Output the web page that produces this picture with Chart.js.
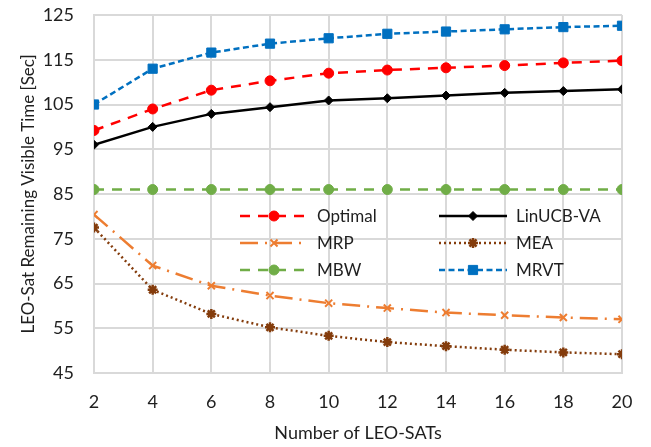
<!DOCTYPE html>
<html>
<head>
<meta charset="utf-8">
<script src="https://cdn.jsdelivr.net/npm/chart.js@4/dist/chart.umd.min.js"></script>
<style>
  html, body { margin: 0; padding: 0; background: #fff; }
  #wrap { width: 651px; height: 447px; }
</style>
</head>
<body>
<div id="wrap"><canvas id="c" width="651" height="447"></canvas></div>
<script>
const satCounts = [2, 4, 6, 8, 10, 12, 14, 16, 18, 20];
const optimal  = [99.2, 104.0, 108.2, 110.3, 112.0, 112.7, 113.2, 113.7, 114.3, 114.8];
const linucbVA = [96.0, 100.0, 102.9, 104.4, 105.9, 106.4, 107.0, 107.6, 108.0, 108.4];
const mrp      = [80.4, 69.0, 64.5, 62.3, 60.6, 59.5, 58.5, 57.9, 57.4, 57.0];
const mea      = [77.5, 63.6, 58.2, 55.2, 53.3, 51.9, 51.0, 50.2, 49.6, 49.2];
const mbw      = [86, 86, 86, 86, 86, 86, 86, 86, 86, 86];
const mrvt     = [105.0, 113.0, 116.6, 118.6, 119.8, 120.8, 121.3, 121.8, 122.3, 122.6];
const seriesNames = ["Optimal", "LinUCB-VA", "MRP", "MEA", "MBW", "MRVT"];
const yTicks = [45, 55, 65, 75, 85, 95, 105, 115, 125];

const FONT = "Lato, 'Open Sans', sans-serif";
const TXT = "#1f1f1f";

function pts(arr) { return arr.map((v, i) => ({ x: satCounts[i], y: v })); }

const datasets = [
  { label: seriesNames[0], data: pts(optimal), borderColor: "#FF0000", backgroundColor: "#FF0000",
    borderWidth: 2.5, borderDash: [10, 8], pointStyle: "circle", pointRadius: 5,
    pointBackgroundColor: "#FF0000", pointBorderColor: "#FF0000", pointBorderWidth: 1 },
  { label: seriesNames[1], data: pts(linucbVA), borderColor: "#000000", backgroundColor: "#000000",
    borderWidth: 2.5, borderDash: [], pointStyle: "rectRot", pointRadius: 4.5,
    pointBackgroundColor: "#000000", pointBorderColor: "#000000", pointBorderWidth: 1 },
  { label: seriesNames[2], data: pts(mrp), borderColor: "#ED7D31", backgroundColor: "#ED7D31",
    borderWidth: 2.5, borderDash: [18, 7, 2, 7], pointStyle: "crossRot", pointRadius: 5,
    pointBackgroundColor: "#ED7D31", pointBorderColor: "#ED7D31", pointBorderWidth: 2 },
  { label: seriesNames[3], data: pts(mea), borderColor: "#843C0C", backgroundColor: "#843C0C",
    borderWidth: 2.5, borderDash: [2, 3], pointStyle: "star", pointRadius: 5,
    pointBackgroundColor: "#843C0C", pointBorderColor: "#843C0C", pointBorderWidth: 2.5 },
  { label: seriesNames[4], data: pts(mbw), borderColor: "#70AD47", backgroundColor: "#70AD47",
    borderWidth: 2.5, borderDash: [10, 8], pointStyle: "circle", pointRadius: 5,
    pointBackgroundColor: "#70AD47", pointBorderColor: "#70AD47", pointBorderWidth: 1 },
  { label: seriesNames[5], data: pts(mrvt), borderColor: "#0070C0", backgroundColor: "#0070C0",
    borderWidth: 2.5, borderDash: [6, 3.5], pointStyle: "rect", pointRadius: 6.5,
    pointBackgroundColor: "#0070C0", pointBorderColor: "#0070C0", pointBorderWidth: 1 }
];

// Legend drawn inside the plot area in a 2-column grid (transparent background)
const gridLegend = {
  id: "gridLegend",
  afterDatasetsDraw(chart) {
    const ctx = chart.ctx;
    const area = chart.chartArea;
    const colX = [area.left + 146, area.left + 345];
    const rowY0 = area.top + 201, rowH = 27;
    const lineLen = 68;
    chart.data.datasets.forEach((ds, i) => {
      const col = i % 2, row = Math.floor(i / 2);
      const x0 = colX[col], y = rowY0 + row * rowH;
      ctx.save();
      ctx.strokeStyle = ds.borderColor;
      ctx.lineWidth = ds.borderWidth;
      ctx.setLineDash(ds.borderDash || []);
      ctx.beginPath();
      ctx.moveTo(x0, y);
      ctx.lineTo(x0 + lineLen, y);
      ctx.stroke();
      ctx.setLineDash([]);
      ctx.fillStyle = ds.pointBackgroundColor;
      ctx.strokeStyle = ds.pointBorderColor;
      ctx.lineWidth = ds.pointBorderWidth;
      Chart.helpers.drawPoint(ctx, {
        pointStyle: ds.pointStyle, radius: ds.pointRadius, rotation: 0, borderWidth: ds.pointBorderWidth
      }, x0 + lineLen / 2, y);
      ctx.fillStyle = TXT;
      ctx.font = "17px " + FONT;
      ctx.textAlign = "left";
      ctx.textBaseline = "middle";
      ctx.fillText(ds.label, x0 + lineLen + 9, y + 1);
      ctx.restore();
    });
  }
};

new Chart(document.getElementById("c"), {
  type: "line",
  data: { datasets },
  options: {
    responsive: false,
    animation: false,
    layout: { padding: { top: 15, right: 29, left: 0, bottom: 0 } },
    plugins: { legend: { display: false }, tooltip: { enabled: false } },
    scales: {
      x: {
        type: "linear", min: 2, max: 20,
        afterBuildTicks(scale) { scale.ticks = satCounts.map(v => ({ value: v })); },
        afterFit(scale) { scale.height = 74; scale.paddingLeft = 0; scale.paddingRight = 0; },
        grid: { color: "#D9D9D9", lineWidth: 2, drawTicks: false },
        border: { color: "#D9D9D9", width: 2 },
        ticks: { color: TXT, font: { family: FONT, size: 18 }, padding: 18 },
        title: { display: true, text: "Number of LEO-SATs", color: TXT,
                 font: { family: FONT, size: 18 }, padding: { top: 4, bottom: 3 } }
      },
      y: {
        min: 45, max: 125,
        afterBuildTicks(scale) { scale.ticks = yTicks.map(v => ({ value: v })); },
        afterFit(scale) { scale.width = 94; scale.paddingTop = 0; scale.paddingBottom = 0; },
        grid: { color: "#D9D9D9", lineWidth: 2, drawTicks: false },
        border: { color: "#D9D9D9", width: 2 },
        ticks: { color: TXT, font: { family: FONT, size: 18 }, padding: 20 },
        title: { display: true, text: "LEO-Sat Remaining Visible Time [Sec]", color: TXT,
                 font: { family: FONT, size: 17 }, padding: { top: 18, bottom: 2 } }
      }
    }
  },
  plugins: [gridLegend]
});
</script>
</body>
</html>
